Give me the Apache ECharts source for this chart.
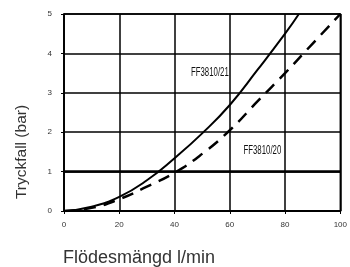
<!DOCTYPE html>
<html><head><meta charset="utf-8">
<script src="https://cdn.jsdelivr.net/npm/echarts@6/dist/echarts.min.js"></script>
<style>html,body{margin:0;padding:0;background:#fff}#c{width:350px;height:267px}</style>
</head><body><div id="c"></div>
<script>
const xTicks = [0, 20, 40, 60, 80, 100];
const yTicks = [0, 1, 2, 3, 4, 5];
const flowSolid = [0, 10, 20, 30, 40, 50, 60, 70, 80, 85];
const dropSolid = [0, 0.11, 0.36, 0.78, 1.34, 1.97, 2.69, 3.58, 4.5, 5];
const flowDashed = [0, 10, 20, 30, 40, 50, 60, 70, 80, 90, 100];
const dropDashed = [0, 0.08, 0.3, 0.62, 0.97, 1.45, 2.05, 2.78, 3.5, 4.25, 5];
const nameSolid = 'FF3810/21';
const nameDashed = 'FF3810/20';
const xTitle = 'Flödesmängd l/min';
const yTitle = 'Tryckfall (bar)';

const chart = echarts.init(document.getElementById('c'), null, {renderer: 'canvas'});
const font = 'Liberation Sans, Arial, Helvetica, sans-serif';
chart.setOption({
  animation: false,
  grid: {left: 64, right: 5, top: 14, bottom: 56, show: true, borderColor: '#000', borderWidth: 1.5},
  xAxis: {
    type: 'value', min: xTicks[0], max: xTicks[xTicks.length - 1], interval: 20,
    axisLine: {show: true, lineStyle: {color: '#000', width: 2}},
    axisTick: {show: true, length: 3, lineStyle: {color: '#000', width: 1}},
    splitLine: {show: true, lineStyle: {color: '#000', width: 1.5}},
    axisLabel: {fontSize: 8, color: '#333', margin: 10, fontFamily: font}
  },
  yAxis: {
    type: 'value', min: yTicks[0], max: yTicks[yTicks.length - 1], interval: 1,
    axisLine: {show: true, lineStyle: {color: '#000', width: 1.5}},
    axisTick: {show: true, length: 3, lineStyle: {color: '#000', width: 1}},
    splitLine: {show: true, lineStyle: {color: '#000', width: 1.5}},
    axisLabel: {fontSize: 8, color: '#333', margin: 12, fontFamily: font}
  },
  series: [
    {
      name: nameSolid, type: 'line', smooth: true, showSymbol: false, clip: true,
      data: flowSolid.map((x, i) => [x, dropSolid[i]]),
      lineStyle: {color: '#000', width: 2},
      markLine: {silent: true, symbol: 'none', label: {show: false},
        lineStyle: {color: '#000', width: 2.5, type: 'solid'}, data: [{yAxis: 1}]},
      z: 3
    },
    {
      name: nameDashed, type: 'line', smooth: true, showSymbol: false, clip: true,
      data: flowDashed.map((x, i) => [x, dropDashed[i]]),
      lineStyle: {color: '#000', width: 2.5, type: [12, 8]},
      z: 3
    }
  ],
  graphic: [
    {type: 'text', x: 191, y: 72, scaleX: 0.6, style: {text: nameSolid, x: 0, y: 0, fontSize: 13, fontFamily: font, fill: '#111', textAlign: 'left', textVerticalAlign: 'middle'}},
    {type: 'text', x: 243.5, y: 150, scaleX: 0.6, style: {text: nameDashed, x: 0, y: 0, fontSize: 13, fontFamily: font, fill: '#111', textAlign: 'left', textVerticalAlign: 'middle'}},
    {type: 'text', x: 22, y: 152, rotation: Math.PI / 2,
      style: {text: yTitle, x: 0, y: 0, fontSize: 15.5, fontFamily: font, fill: '#333', textAlign: 'center', textVerticalAlign: 'middle'}},
    {type: 'text', x: 63, y: 258, style: {text: xTitle, x: 0, y: 0, fontSize: 18, fontFamily: font, fill: '#333', textAlign: 'left', textVerticalAlign: 'middle'}}
  ]
});
</script></body></html>
